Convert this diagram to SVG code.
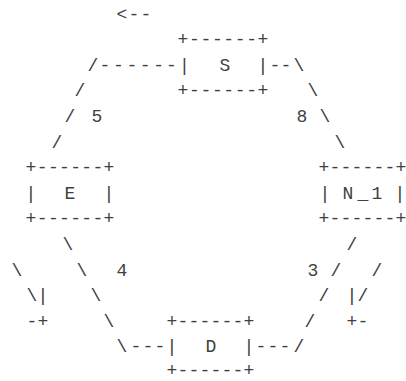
<svg xmlns="http://www.w3.org/2000/svg" width="406" height="381" viewBox="0 0 406 381">
<style>
text{font-family:"Liberation Mono","Courier New",monospace;font-size:18px;fill:#404040;text-anchor:middle}
</style>
<rect width="406" height="381" fill="#ffffff"/>
<g id="connectors">
<text x="122 134 146" y="19.5">&lt;--</text>
<text x="93 105 118.4 131.8 145.2 158.6 171.5" y="70.7">/------</text>
<text x="275 286 299" y="70.7">--\</text>
<text x="80" y="96.3">/</text>
<text x="313" y="96.3">\</text>
<text x="70" y="121.9">/</text>
<text x="97" y="121.9">5</text>
<text x="302" y="121.9">8</text>
<text x="325" y="121.9">\</text>
<text x="57" y="147.5">/</text>
<text x="340" y="147.5">\</text>
<text x="68" y="249.9">\</text>
<text x="352" y="249.9">/</text>
<text x="17 82" y="275.5">\\</text>
<text x="122" y="275.5">4</text>
<text x="313" y="275.5">3</text>
<text x="336 377" y="275.5">//</text>
<text x="32 43" y="301.1">\|</text>
<text x="96" y="301.1">\</text>
<text x="324" y="301.1">/</text>
<text x="352 363" y="301.1">|/</text>
<text x="32 43" y="326.7">-+</text>
<text x="109" y="326.7">\</text>
<text x="310" y="326.7">/</text>
<text x="352 363" y="326.7">+-</text>
<text x="122 136 148 160" y="352.3">\---</text>
<text x="261 273 285 299" y="352.3">---/</text>
</g>
<g id="node-S">
<text x="183 194.4 205.9 217.3 228.7 240.1 251.6 263" y="45.1">+------+</text>
<text x="184.5" y="70.7">|</text>
<text x="225" y="70.7">S</text>
<text x="263" y="70.7">|</text>
<text x="183 194.4 205.9 217.3 228.7 240.1 251.6 263" y="96.3">+------+</text>
</g>
<g id="node-E">
<text x="31 42.1 53.3 64.4 75.6 86.7 97.9 109" y="173.1">+------+</text>
<text x="31" y="198.7">|</text>
<text x="70" y="198.7">E</text>
<text x="109" y="198.7">|</text>
<text x="31 42.1 53.3 64.4 75.6 86.7 97.9 109" y="224.3">+------+</text>
</g>
<g id="node-N_1">
<text x="324 335 346 357 368 379 390 401" y="173.1">+------+</text>
<text x="325" y="198.7">|</text>
<text x="348 363 377" y="198.7">N_1</text>
<text x="400" y="198.7">|</text>
<text x="324 335 346 357 368 379 390 401" y="224.3">+------+</text>
</g>
<g id="node-D">
<text x="172 183 194 205 216 227 238 249" y="326.7">+------+</text>
<text x="172" y="352.3">|</text>
<text x="211" y="352.3">D</text>
<text x="249" y="352.3">|</text>
<text x="172 183 194 205 216 227 238 249" y="375.5">+------+</text>
</g>
</svg>
